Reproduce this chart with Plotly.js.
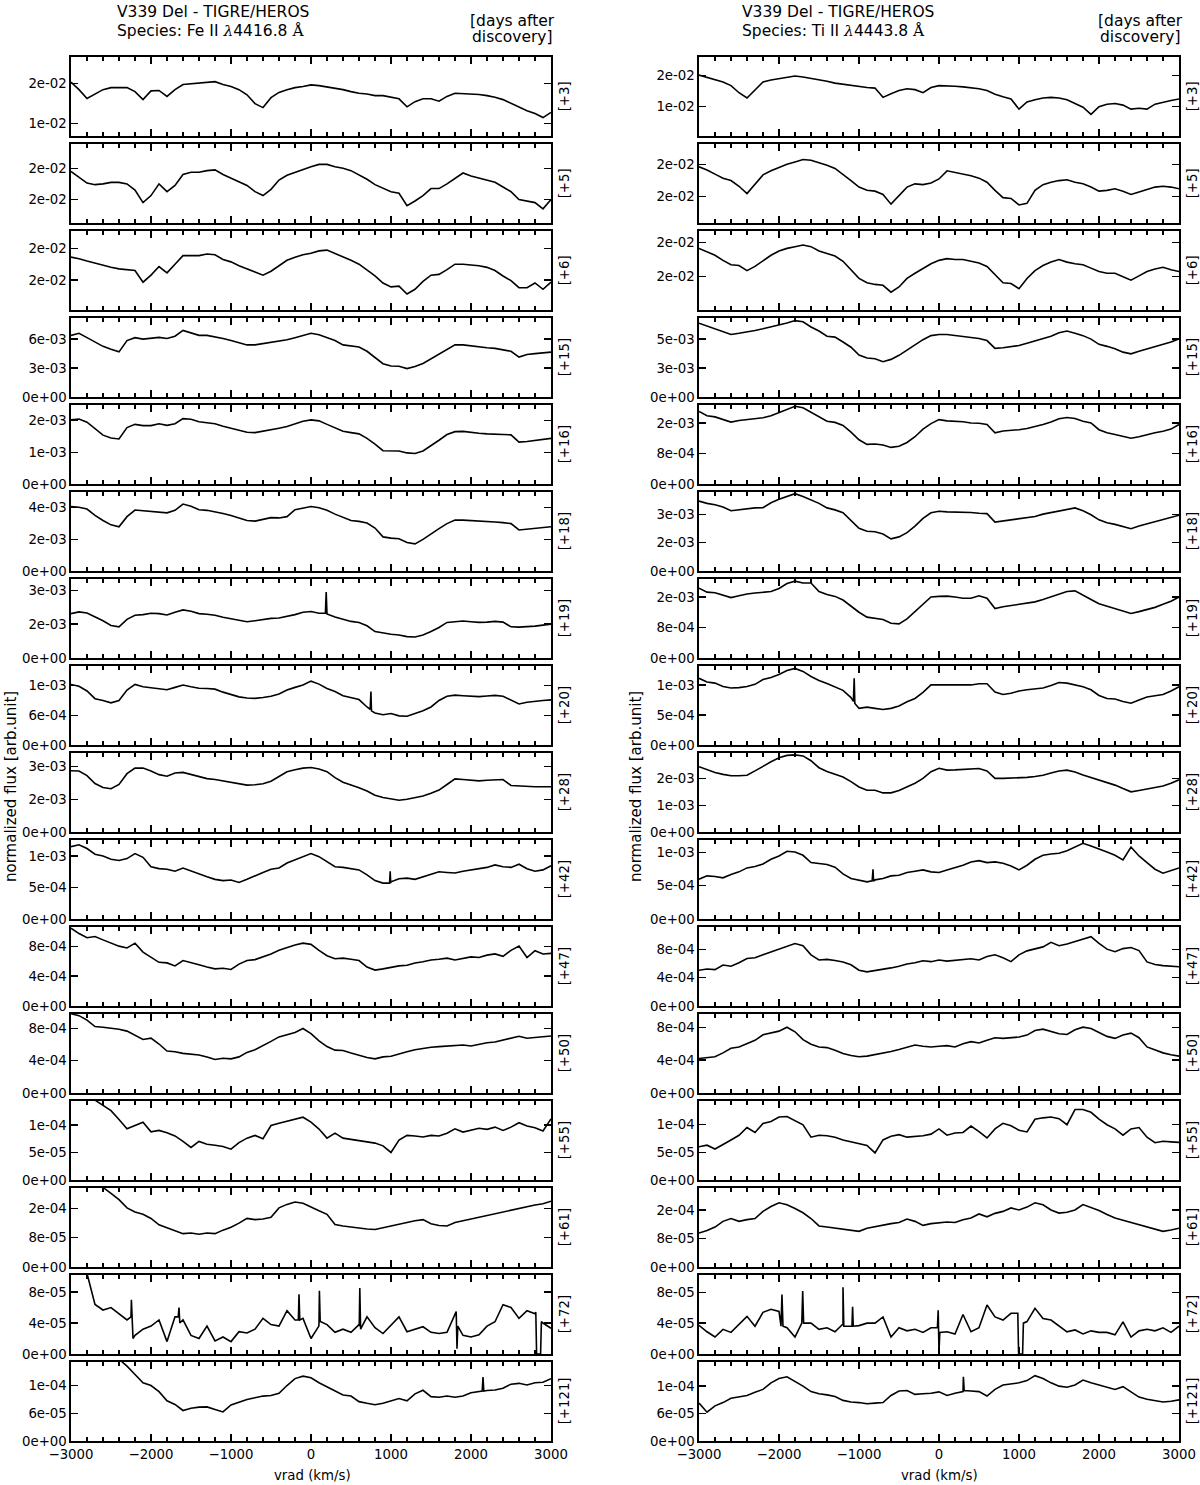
<!DOCTYPE html>
<html>
<head>
<meta charset="utf-8">
<script src="https://cdn.plot.ly/plotly-3.0.1.min.js"></script>
<style>
  body { margin: 0; background: #fff; }
  #chart { width: 1200px; height: 1485px; }
</style>
</head>
<body>
<div id="chart"></div>
<script>
// radial velocity grid (km/s)
var vrad = [-3000,-2900,-2800,-2700,-2600,-2500,-2400,-2300,-2200,-2100,-2000,
  -1900,-1800,-1700,-1600,-1500,-1400,-1300,-1200,-1100,-1000,
  -900,-800,-700,-600,-500,-400,-300,-200,-100,0,
  100,200,300,400,500,600,700,800,900,1000,
  1100,1200,1300,1400,1500,1600,1700,1800,1900,2000,
  2100,2200,2300,2400,2500,2600,2700,2800,2900,3000];

var days = [3, 5, 6, 15, 16, 18, 19, 20, 28, 42, 47, 50, 55, 61, 72, 121];

// ---- Fe II 4416.8 A, one array per epoch (in units of feUnit) ----
var fe3 = [2.04,1.85,1.63,1.75,1.85,1.90,1.90,1.90,1.80,1.60,1.82,
  1.83,1.68,1.85,1.98,2.00,2.02,2.03,2.05,1.98,1.93,
  1.85,1.72,1.50,1.40,1.65,1.78,1.85,1.90,1.93,1.97,
  1.95,1.92,1.88,1.85,1.80,1.76,1.74,1.70,1.70,1.66,
  1.62,1.42,1.55,1.62,1.62,1.56,1.68,1.76,1.75,1.73,
  1.73,1.70,1.66,1.60,1.50,1.40,1.32,1.25,1.15,1.28];
var fe5 = [2.16,2.09,2.01,1.99,2.00,2.02,2.02,2.00,1.92,1.76,1.85,
  2.00,1.90,1.98,2.12,2.15,2.15,2.17,2.18,2.12,2.07,
  2.03,1.98,1.90,1.85,1.93,2.05,2.11,2.15,2.19,2.22,
  2.25,2.25,2.22,2.20,2.17,2.12,2.06,1.99,1.94,1.90,
  1.88,1.72,1.78,1.85,1.94,1.94,2.00,2.07,2.14,2.10,
  2.07,2.05,2.02,1.96,1.90,1.80,1.78,1.76,1.68,1.80];
var fe6 = [2.09,2.07,2.04,2.01,1.98,1.96,1.94,1.93,1.92,1.77,1.86,
  1.97,1.89,2.00,2.11,2.11,2.11,2.13,2.12,2.06,2.03,
  1.98,1.94,1.90,1.86,1.91,1.98,2.05,2.09,2.12,2.14,
  2.17,2.18,2.14,2.10,2.05,2.00,1.93,1.85,1.76,1.71,
  1.72,1.62,1.68,1.78,1.86,1.87,1.93,2.00,2.00,1.99,
  1.98,1.96,1.92,1.85,1.79,1.70,1.70,1.76,1.68,1.77];
var fe15 = [2.13,2.20,2.05,1.90,1.75,1.65,1.56,1.95,2.05,2.00,2.02,
  2.06,2.02,2.10,2.30,2.22,2.13,2.13,2.08,2.02,1.95,
  1.88,1.80,1.80,1.84,1.88,1.92,1.98,2.05,2.12,2.20,
  2.15,2.06,1.95,1.80,1.76,1.73,1.58,1.38,1.15,1.07,
  1.06,0.98,1.05,1.16,1.32,1.48,1.66,1.80,1.80,1.76,
  1.72,1.70,1.68,1.64,1.58,1.38,1.47,1.50,1.52,1.55];
var fe16 = [2.02,2.05,1.95,1.75,1.54,1.45,1.42,1.78,1.88,1.84,1.84,
  1.90,1.85,1.90,2.06,2.04,1.96,1.93,1.90,1.82,1.75,
  1.70,1.63,1.62,1.66,1.72,1.76,1.81,1.90,1.98,2.02,
  1.99,1.88,1.76,1.66,1.62,1.58,1.44,1.26,1.05,1.04,
  1.04,0.98,0.96,1.04,1.20,1.38,1.56,1.65,1.66,1.62,
  1.60,1.58,1.56,1.56,1.55,1.32,1.34,1.38,1.41,1.44];
var fe18 = [2.04,2.02,1.96,1.76,1.60,1.46,1.40,1.72,1.93,1.91,1.90,
  1.88,1.84,1.92,2.12,2.05,1.94,1.92,1.88,1.82,1.76,
  1.68,1.60,1.58,1.64,1.69,1.68,1.72,1.94,2.00,2.04,
  2.00,1.92,1.80,1.70,1.60,1.57,1.52,1.36,1.08,1.04,
  1.02,0.90,0.86,1.00,1.18,1.34,1.50,1.61,1.61,1.60,
  1.59,1.57,1.55,1.53,1.50,1.30,1.32,1.35,1.37,1.40];
var fe19 = [1.31,1.36,1.33,1.22,1.10,0.96,0.92,1.14,1.26,1.28,1.32,
  1.31,1.27,1.35,1.42,1.38,1.31,1.29,1.26,1.20,1.15,
  1.10,1.07,1.10,1.14,1.17,1.18,1.22,1.28,1.35,1.37,
  1.32,1.30,1.21,1.14,1.08,1.05,0.95,0.78,0.73,0.70,
  0.68,0.63,0.62,0.68,0.78,0.90,1.05,1.08,1.09,1.07,
  1.05,1.06,1.08,1.06,0.92,0.91,0.92,0.94,0.97,1.00];
var fe20 = [2.04,1.98,1.82,1.56,1.50,1.42,1.50,1.85,2.04,1.96,1.93,
  1.90,1.86,1.94,2.02,1.96,1.91,1.90,1.88,1.78,1.69,
  1.62,1.58,1.57,1.60,1.64,1.72,1.85,1.94,2.02,2.15,
  2.05,1.90,1.80,1.66,1.60,1.53,1.28,1.08,1.02,1.06,
  0.98,0.97,1.05,1.15,1.28,1.50,1.64,1.68,1.66,1.64,
  1.63,1.65,1.67,1.64,1.50,1.38,1.44,1.48,1.50,1.52];
var fe28 = [1.87,1.86,1.72,1.48,1.36,1.32,1.45,1.78,1.95,1.95,1.86,
  1.75,1.70,1.80,1.82,1.76,1.70,1.63,1.60,1.56,1.53,
  1.48,1.43,1.44,1.47,1.55,1.70,1.84,1.90,1.95,1.97,
  1.92,1.84,1.66,1.52,1.44,1.35,1.25,1.12,1.05,1.00,
  0.97,1.00,1.04,1.10,1.18,1.28,1.45,1.62,1.60,1.58,
  1.56,1.58,1.60,1.60,1.42,1.40,1.38,1.38,1.38,1.38];
var fe42 = [2.30,2.36,2.24,2.06,2.00,1.90,1.86,1.92,2.08,1.96,1.66,
  1.60,1.58,1.52,1.62,1.52,1.42,1.34,1.26,1.22,1.24,
  1.16,1.26,1.38,1.48,1.58,1.62,1.78,1.88,2.00,2.08,
  1.98,1.82,1.66,1.64,1.60,1.56,1.40,1.22,1.14,1.18,
  1.28,1.30,1.26,1.34,1.42,1.50,1.48,1.46,1.52,1.56,
  1.58,1.64,1.72,1.66,1.64,1.74,1.60,1.52,1.56,1.69];
var fe47 = [2.60,2.42,2.28,2.32,2.21,2.10,2.00,1.94,2.10,1.80,1.62,
  1.46,1.44,1.34,1.52,1.46,1.38,1.30,1.24,1.26,1.22,
  1.40,1.52,1.55,1.64,1.74,1.86,1.96,2.04,2.10,2.06,
  1.86,1.68,1.58,1.60,1.56,1.52,1.30,1.20,1.24,1.30,
  1.34,1.36,1.44,1.48,1.54,1.56,1.60,1.54,1.60,1.64,
  1.62,1.70,1.74,1.66,1.86,2.00,1.62,1.85,1.74,1.76];
var fe50 = [2.46,2.40,2.26,2.06,2.04,2.01,1.98,1.92,1.80,1.66,1.70,
  1.52,1.30,1.28,1.23,1.20,1.18,1.12,1.04,1.08,1.06,
  1.12,1.26,1.34,1.46,1.60,1.74,1.82,1.88,2.00,1.84,
  1.62,1.44,1.33,1.32,1.24,1.16,1.10,1.06,1.12,1.14,
  1.22,1.28,1.34,1.39,1.42,1.44,1.46,1.48,1.49,1.46,
  1.52,1.56,1.58,1.64,1.72,1.76,1.70,1.72,1.74,1.77];
var fe55 = [3.40,3.20,3.00,2.90,2.72,2.52,2.20,1.86,1.98,2.10,1.75,
  1.80,1.72,1.60,1.40,1.18,1.40,1.30,1.26,1.22,1.12,
  1.36,1.52,1.62,1.50,1.98,2.06,2.14,2.22,2.28,2.10,
  1.85,1.52,1.70,1.52,1.48,1.44,1.38,1.34,1.24,1.00,
  1.45,1.62,1.60,1.56,1.62,1.60,1.70,1.86,1.74,1.80,
  1.88,1.84,1.92,1.80,1.92,2.08,1.96,1.90,1.78,2.22];
var fe61 = [3.40,3.20,3.00,2.85,2.72,2.52,2.30,2.02,1.88,1.80,1.66,
  1.44,1.34,1.26,1.14,1.16,1.12,1.16,1.14,1.26,1.36,
  1.50,1.66,1.62,1.64,1.70,2.02,2.14,2.22,2.18,2.04,
  1.92,1.80,1.45,1.40,1.36,1.33,1.30,1.28,1.34,1.40,
  1.48,1.54,1.58,1.62,1.48,1.42,1.40,1.52,1.58,1.66,
  1.72,1.78,1.82,1.88,1.96,2.02,2.08,2.12,2.16,2.25];
var fe72 = [4.20,3.40,2.60,1.60,1.42,1.50,1.30,1.10,0.60,0.80,0.90,
  1.10,0.40,1.20,1.10,0.60,0.50,0.90,0.42,0.55,0.40,
  0.72,0.68,0.80,1.15,0.95,0.90,1.40,1.10,1.15,0.50,
  1.00,0.95,0.70,0.80,0.70,0.95,1.20,0.85,0.66,0.93,
  1.20,0.72,0.80,0.88,0.70,0.66,0.70,1.30,0.60,0.55,
  0.62,0.90,1.04,1.59,1.50,1.15,1.40,1.30,1.00,0.83];
var fe121 = [4.60,4.30,4.00,3.70,3.40,3.15,2.95,2.70,2.40,2.10,2.00,
  1.78,1.45,1.32,1.10,1.18,1.22,1.23,1.14,1.05,1.30,
  1.40,1.50,1.56,1.62,1.64,1.72,2.00,2.25,2.34,2.28,
  2.10,1.95,1.80,1.66,1.62,1.42,1.36,1.31,1.36,1.45,
  1.53,1.45,1.70,1.83,1.60,1.58,1.62,1.58,1.62,1.74,
  1.78,1.82,1.84,1.90,2.05,2.08,2.02,2.10,2.12,2.25];

// ---- Ti II 4443.8 A ----
var ti3 = [2.02,1.95,1.87,1.80,1.68,1.45,1.28,1.55,1.80,1.86,1.90,
  1.95,1.99,1.96,1.92,1.88,1.82,1.76,1.72,1.70,1.66,
  1.62,1.60,1.30,1.42,1.52,1.58,1.55,1.45,1.62,1.68,
  1.68,1.66,1.64,1.62,1.58,1.52,1.40,1.32,1.25,0.92,
  1.15,1.22,1.28,1.30,1.28,1.22,1.10,0.98,0.75,1.00,
  1.08,1.10,1.05,0.92,0.95,0.92,1.08,1.15,1.20,1.25];
var ti5 = [2.17,2.13,2.08,2.03,2.00,1.93,1.84,1.95,2.07,2.12,2.16,
  2.20,2.23,2.26,2.25,2.22,2.19,2.15,2.08,2.00,1.92,
  1.88,1.87,1.83,1.71,1.82,1.92,1.96,1.95,1.97,2.02,
  2.12,2.10,2.08,2.06,2.03,1.98,1.88,1.79,1.78,1.70,
  1.72,1.88,1.95,1.98,2.00,2.01,1.98,1.96,1.92,1.87,
  1.88,1.90,1.87,1.83,1.86,1.89,1.92,1.93,1.92,1.90];
var ti6 = [2.13,2.09,2.05,1.99,1.94,1.93,1.87,1.92,1.99,2.05,2.10,
  2.13,2.15,2.17,2.15,2.10,2.07,2.04,1.98,1.88,1.78,
  1.73,1.71,1.70,1.62,1.68,1.78,1.84,1.90,1.95,1.99,
  2.01,2.00,2.00,1.98,1.96,1.92,1.83,1.73,1.72,1.66,
  1.78,1.87,1.93,1.97,2.00,1.97,1.95,1.94,1.90,1.86,
  1.84,1.84,1.80,1.76,1.81,1.86,1.89,1.91,1.88,1.86];
var ti15 = [2.55,2.45,2.36,2.27,2.16,2.20,2.24,2.30,2.36,2.42,2.48,
  2.56,2.64,2.60,2.42,2.28,2.10,2.07,1.90,1.72,1.45,
  1.35,1.32,1.22,1.30,1.44,1.62,1.80,1.98,2.12,2.16,
  2.16,2.12,2.10,2.06,2.02,1.95,1.68,1.70,1.75,1.78,
  1.86,1.94,2.03,2.10,2.22,2.28,2.20,2.12,2.00,1.82,
  1.75,1.67,1.55,1.49,1.58,1.66,1.74,1.80,1.90,2.01];
var ti16 = [2.38,2.24,2.20,2.12,2.03,2.08,2.11,2.13,2.17,2.24,2.34,
  2.45,2.55,2.50,2.35,2.20,2.06,2.02,1.92,1.70,1.45,
  1.30,1.31,1.28,1.20,1.24,1.36,1.55,1.80,1.98,2.11,
  2.07,2.06,2.04,2.00,1.99,1.95,1.68,1.74,1.75,1.78,
  1.82,1.88,1.95,2.03,2.14,2.18,2.15,2.06,2.00,1.78,
  1.68,1.62,1.55,1.50,1.55,1.62,1.68,1.73,1.80,1.95];
var ti18 = [2.46,2.38,2.33,2.25,2.12,2.15,2.20,2.22,2.23,2.40,2.52,
  2.62,2.72,2.62,2.50,2.38,2.22,2.15,2.05,1.76,1.50,
  1.40,1.38,1.30,1.13,1.20,1.35,1.58,1.85,2.05,2.10,
  2.08,2.08,2.08,2.06,2.03,2.02,1.72,1.76,1.78,1.82,
  1.86,1.92,2.00,2.06,2.12,2.18,2.22,2.12,1.98,1.80,
  1.70,1.64,1.56,1.49,1.58,1.66,1.74,1.80,1.88,1.96];
var ti19 = [2.29,2.16,2.14,2.06,1.98,2.04,2.10,2.13,2.16,2.18,2.28,
  2.44,2.52,2.46,2.46,2.18,2.08,2.02,1.90,1.70,1.50,
  1.34,1.30,1.26,1.14,1.12,1.28,1.52,1.78,2.00,2.02,
  2.03,2.00,1.96,1.96,2.04,1.96,1.62,1.68,1.72,1.74,
  1.78,1.84,1.92,2.00,2.10,2.18,2.20,2.07,1.92,1.78,
  1.70,1.62,1.54,1.46,1.52,1.58,1.66,1.76,1.86,2.00];
var ti20 = [2.22,2.10,2.06,1.95,1.90,1.91,1.95,2.02,2.18,2.25,2.35,
  2.48,2.55,2.45,2.28,2.15,2.05,1.94,1.82,1.58,1.22,
  1.26,1.22,1.18,1.22,1.30,1.44,1.55,1.75,2.00,2.00,
  2.00,1.98,2.00,2.00,2.04,2.04,1.76,1.68,1.72,1.80,
  1.84,1.88,1.90,1.98,2.08,2.06,2.00,1.94,1.84,1.65,
  1.55,1.53,1.45,1.39,1.50,1.60,1.64,1.68,1.80,1.94];
var ti28 = [2.44,2.32,2.22,2.15,2.10,2.10,2.12,2.28,2.46,2.62,2.77,
  2.86,2.88,2.84,2.66,2.40,2.26,2.15,2.05,1.88,1.68,
  1.56,1.56,1.46,1.46,1.55,1.68,1.82,2.00,2.25,2.38,
  2.31,2.32,2.34,2.36,2.37,2.28,2.00,2.00,2.01,2.03,
  2.04,2.07,2.12,2.20,2.28,2.31,2.24,2.13,2.04,1.94,
  1.85,1.75,1.62,1.50,1.55,1.60,1.65,1.72,1.82,1.95];
var ti42 = [1.20,1.30,1.28,1.24,1.34,1.42,1.54,1.58,1.66,1.80,1.90,
  2.04,2.02,1.92,1.70,1.66,1.64,1.56,1.36,1.22,1.18,
  1.12,1.18,1.22,1.30,1.32,1.40,1.44,1.48,1.42,1.40,
  1.48,1.54,1.62,1.72,1.76,1.70,1.72,1.68,1.60,1.48,
  1.62,1.80,1.92,1.96,1.98,2.06,2.18,2.28,2.20,2.12,
  2.02,1.92,1.78,2.17,1.90,1.70,1.50,1.38,1.45,1.54];
var ti47 = [1.26,1.30,1.28,1.44,1.40,1.52,1.67,1.70,1.80,1.90,2.00,
  2.10,2.20,2.12,1.80,1.62,1.64,1.60,1.55,1.45,1.26,
  1.20,1.24,1.30,1.34,1.40,1.48,1.52,1.59,1.56,1.62,
  1.58,1.61,1.64,1.66,1.62,1.74,1.80,1.70,1.56,1.80,
  1.94,2.02,2.08,2.24,2.12,2.18,2.26,2.36,2.44,2.20,
  2.00,1.91,2.02,2.06,1.95,1.55,1.46,1.42,1.40,1.38];
var ti50 = [1.05,1.08,1.10,1.22,1.36,1.40,1.50,1.60,1.77,1.82,1.88,
  2.00,1.86,1.62,1.48,1.40,1.38,1.30,1.20,1.14,1.10,
  1.12,1.16,1.22,1.26,1.32,1.38,1.46,1.42,1.40,1.42,
  1.44,1.40,1.50,1.56,1.52,1.60,1.68,1.66,1.68,1.70,
  1.76,1.90,1.94,1.86,1.80,1.78,1.92,2.00,1.96,1.84,
  1.72,1.66,1.76,1.82,1.68,1.40,1.30,1.22,1.16,1.12];
var ti55 = [1.20,1.26,1.12,1.30,1.45,1.62,1.90,1.72,2.05,2.12,2.28,
  2.30,2.15,2.00,1.55,1.62,1.60,1.55,1.45,1.38,1.33,
  1.25,0.98,1.45,1.58,1.64,1.55,1.58,1.60,1.66,1.85,
  1.62,1.70,1.72,1.95,1.75,1.52,1.85,2.05,1.96,1.80,
  1.74,2.20,2.25,2.28,2.22,2.00,2.55,2.55,2.45,2.20,
  2.00,1.85,1.62,1.85,1.90,1.55,1.35,1.40,1.38,1.36];
var ti61 = [1.19,1.28,1.40,1.60,1.70,1.60,1.66,1.70,1.95,2.12,2.25,
  2.18,2.05,1.90,1.70,1.44,1.40,1.36,1.32,1.30,1.25,
  1.36,1.42,1.48,1.52,1.56,1.68,1.60,1.46,1.52,1.54,
  1.58,1.56,1.66,1.72,1.86,1.76,1.88,1.95,2.07,2.00,
  2.10,2.25,2.18,2.00,1.89,1.92,2.00,2.19,2.08,1.98,
  1.84,1.72,1.64,1.56,1.48,1.40,1.32,1.25,1.30,1.36];
var ti72 = [0.93,0.72,0.55,0.80,0.70,0.95,1.22,0.90,1.35,1.45,1.38,
  0.85,0.55,1.10,1.00,0.80,0.85,0.72,0.95,0.90,0.92,
  1.00,1.00,1.20,0.55,0.85,0.75,0.80,0.70,0.85,0.05,
  0.72,0.65,1.28,0.72,0.85,1.59,1.20,1.10,1.32,0.00,
  1.05,1.48,1.15,1.10,0.90,0.72,0.78,0.65,0.75,0.70,
  0.70,0.62,1.04,0.55,0.75,0.80,0.75,0.85,0.70,0.90];
var ti121 = [1.38,1.05,1.28,1.40,1.56,1.62,1.66,1.78,1.88,2.12,2.28,
  2.34,2.18,2.00,1.80,1.72,1.68,1.62,1.48,1.42,1.40,
  1.36,1.38,1.40,1.66,1.82,1.84,1.70,1.72,1.74,1.79,
  1.66,1.74,1.80,1.82,1.80,1.64,1.88,2.04,2.08,2.12,
  2.20,2.38,2.28,2.12,2.00,1.96,2.04,2.22,2.12,2.04,
  1.94,1.88,1.98,1.80,1.60,1.52,1.48,1.42,1.45,1.50];

// narrow emission / drop-out features: [vrad, value] pairs, keyed by panel row
var feSpikes = {
  6: [[180,1.32],[190,1.95],[197,1.34]],
  7: [[740,1.20],[749,1.80],[756,1.15]],
  9: [[982,1.14],[990,1.52],[996,1.14]],
  14: [[-2250,1.20],[-2245,1.75],[-2225,0.50],[-1660,1.20],[-1650,1.50],[-1640,1.00],
       [-158,1.10],[-150,1.93],[-140,1.10],[98,0.90],[105,2.04],[115,1.05],
       [603,0.90],[610,2.13],[620,0.80],[1815,1.37],[1825,0.17],[1835,0.90],
       [2810,1.35],[2820,0],[2870,0],[2880,1.05]],
  15: [[2140,1.80],[2150,2.31],[2160,1.80]]
};
var tiSpikes = {
  7: [[-1070,1.45],[-1060,2.22],[-1052,1.38]],
  9: [[-835,1.15],[-825,1.50],[-818,1.14]],
  14: [[-1975,0.90],[-1963,1.93],[-1950,0.90],[-1715,1.00],[-1704,2.04],[-1692,1.00],
       [-1210,0.95],[-1200,2.16],[-1190,0.90],[-1088,0.90],[-1080,1.53],[-1072,0.90],
       [-20,0.85],[-10,1.42],[10,0.70],[985,1.32],[995,0],[1045,0],[1055,1.00]],
  15: [[290,1.80],[305,2.34],[315,1.84]]
};

var feSeries = [fe3, fe5, fe6, fe15, fe16, fe18, fe19, fe20, fe28, fe42, fe47, fe50, fe55, fe61, fe72, fe121];
var tiSeries = [ti3, ti5, ti6, ti15, ti16, ti18, ti19, ti20, ti28, ti42, ti47, ti50, ti55, ti61, ti72, ti121];

// flux per unit of the arrays above
var feUnit = [1e-2, 1e-2, 1e-2, 3e-3, 1e-3, 2e-3, 1.5e-3, 5.5e-4, 1.5e-3, 5e-4, 4e-4, 4e-4, 5e-5, 8e-5, 4e-5, 5.5e-5];
var tiUnit = [1e-2, 1e-2, 1e-2, 2.5e-3, 8e-4, 1.6e-3, 8e-4, 5e-4, 1e-3, 5e-4, 4e-4, 4e-4, 5e-5, 8e-5, 4e-5, 5.5e-5];

// y tick labels
var feTicks = [['1e-02','2e-02'],['2e-02','2e-02'],['2e-02','2e-02'],['0e+00','3e-03','6e-03'],
  ['0e+00','1e-03','2e-03'],['0e+00','2e-03','4e-03'],['0e+00','2e-03','3e-03'],['0e+00','6e-04','1e-03'],
  ['0e+00','2e-03','3e-03'],['0e+00','5e-04','1e-03'],['0e+00','4e-04','8e-04'],['0e+00','4e-04','8e-04'],
  ['0e+00','5e-05','1e-04'],['0e+00','8e-05','2e-04'],['0e+00','4e-05','8e-05'],['0e+00','6e-05','1e-04']];
var tiTicks = [['1e-02','2e-02'],['2e-02','2e-02'],['2e-02','2e-02'],['0e+00','3e-03','5e-03'],
  ['0e+00','8e-04','2e-03'],['0e+00','2e-03','3e-03'],['0e+00','8e-04','2e-03'],['0e+00','5e-04','1e-03'],
  ['0e+00','1e-03','2e-03'],['0e+00','5e-04','1e-03'],['0e+00','4e-04','8e-04'],['0e+00','4e-04','8e-04'],
  ['0e+00','5e-05','1e-04'],['0e+00','8e-05','2e-04'],['0e+00','4e-05','8e-05'],['0e+00','6e-05','1e-04']];
var tickPos = [[1, 2], [1.8, 2.2], [1.8, 2.2]];   // first three rows; others are 0, 1, 2

// y ranges (in array units)
var feRange = [[0.688,2.676],[1.498,2.516],[1.415,2.428],[0,2.74],[0,2.5],[0,2.51],[0,2.34],[0,2.67],
  [0,2.42],[0,2.52],[0,2.65],[0,2.46],[0,2.88],[0,2.71],[0,2.56],[0,2.86]];
var tiRange = [[0.051,2.615],[1.478,2.454],[1.412,2.336],[0,2.74],[0,2.6],[0,2.79],[0,2.6],[0,2.64],
  [0,2.96],[0,2.39],[0,2.79],[0,2.41],[0,2.87],[0,2.78],[0,2.57],[0,2.89]];

var W = 1200, H = 1485;
var colX = [[71, 551], [699, 1179]];
var FONT = 'DejaVu Sans, sans-serif';

function rowTop(r) { return 56.7 + 87 * r; }

function merged(vals, spikes) {
  var pts = vrad.map(function (v, i) { return [v, vals[i]]; });
  if (spikes) pts = pts.concat(spikes);
  pts.sort(function (a, b) { return a[0] - b[0]; });
  return pts;
}

var data = [];
var layout = {
  width: W, height: H,
  margin: {l: 0, r: 0, t: 0, b: 0},
  paper_bgcolor: 'white', plot_bgcolor: 'white',
  showlegend: false,
  font: {family: FONT, size: 13.3, color: 'black'},
  annotations: []
};

var columns = [
  {series: feSeries, unit: feUnit, ticks: feTicks, range: feRange, spikes: feSpikes},
  {series: tiSeries, unit: tiUnit, ticks: tiTicks, range: tiRange, spikes: tiSpikes}
];

columns.forEach(function (col, c) {
  for (var r = 0; r < 16; r++) {
    var n = c * 16 + r + 1;
    var suf = n === 1 ? '' : String(n);
    var u = col.unit[r];
    var pts = merged(col.series[r], col.spikes[r]);

    data.push({
      x: pts.map(function (p) { return p[0]; }),
      y: pts.map(function (p) { return p[1] * u; }),
      xaxis: 'x' + suf, yaxis: 'y' + suf,
      type: 'scatter', mode: 'lines',
      line: {color: 'black', width: 1.6},
      hoverinfo: 'skip'
    });

    var top = rowTop(r);
    layout['xaxis' + suf] = {
      domain: [colX[c][0] / W, colX[c][1] / W],
      anchor: 'y' + suf,
      range: [-3000, 3000],
      tick0: 0, dtick: 1000,
      ticks: 'inside', ticklen: 7, tickwidth: 1.3, tickcolor: 'black',
      minor: {dtick: 200, ticks: 'inside', ticklen: 4, tickwidth: 1.2, tickcolor: 'black', showgrid: false},
      showline: true, linecolor: 'black', linewidth: 1.6, mirror: 'ticks',
      showgrid: false, zeroline: false,
      showticklabels: r === 15,
      tickfont: {family: FONT, size: 13.3}
    };

    var pos = r < 3 ? tickPos[r] : [0, 1, 2];
    layout['yaxis' + suf] = {
      domain: [1 - (top + 79.3) / H, 1 - top / H],
      anchor: 'x' + suf,
      range: [col.range[r][0] * u, col.range[r][1] * u],
      tickmode: 'array',
      tickvals: pos.map(function (v) { return v * u; }),
      ticktext: col.ticks[r],
      ticks: 'inside', ticklen: 7, tickwidth: 1.3, tickcolor: 'black',
      showline: true, linecolor: 'black', linewidth: 1.6, mirror: 'ticks',
      showgrid: false, zeroline: false,
      tickfont: {family: FONT, size: 13.3}
    };

    // epoch label on the right of each panel
    layout.annotations.push({
      xref: 'paper', yref: 'paper',
      x: (c === 0 ? 564 : 1192) / W, y: 1 - (top + 39.65) / H,
      text: '[+' + days[r] + ']', textangle: -90,
      showarrow: false, xanchor: 'center', yanchor: 'middle',
      font: {family: FONT, size: 13.3}
    });
  }
});

function note(text, px, py, size, xanchor, angle) {
  layout.annotations.push({
    xref: 'paper', yref: 'paper', x: px / W, y: 1 - py / H,
    text: text, showarrow: false, xanchor: xanchor || 'center', yanchor: 'middle',
    textangle: angle || 0, font: {family: FONT, size: size}
  });
}

var serif = '<span style="font-family:DejaVu Serif">';
note('V339 Del - TIGRE/HEROS', 115, 11.7, 15.5, 'left');
note('Species: Fe II ' + serif + '<i>λ</i></span>4416.8 ' + serif + 'Å</span>', 115, 31, 15.5, 'left');
note('V339 Del - TIGRE/HEROS', 740, 11.7, 15.5, 'left');
note('Species: Ti II ' + serif + '<i>λ</i></span>4443.8 ' + serif + 'Å</span>', 740, 31, 15.5, 'left');
note('[days after', 512, 21, 15.5);
note('discovery]', 512, 37, 15.5);
note('[days after', 1140, 21, 15.5);
note('discovery]', 1140, 37, 15.5);
note('normalized flux [arb.unit]', 11, 787, 15, 'center', -90);
note('normalized flux [arb.unit]', 636, 787, 15, 'center', -90);
note('vrad (km/s)', 312, 1475, 13.3);
note('vrad (km/s)', 939, 1475, 13.3);

Plotly.newPlot('chart', data, layout, {staticPlot: true, displayModeBar: false});
</script>
</body>
</html>
